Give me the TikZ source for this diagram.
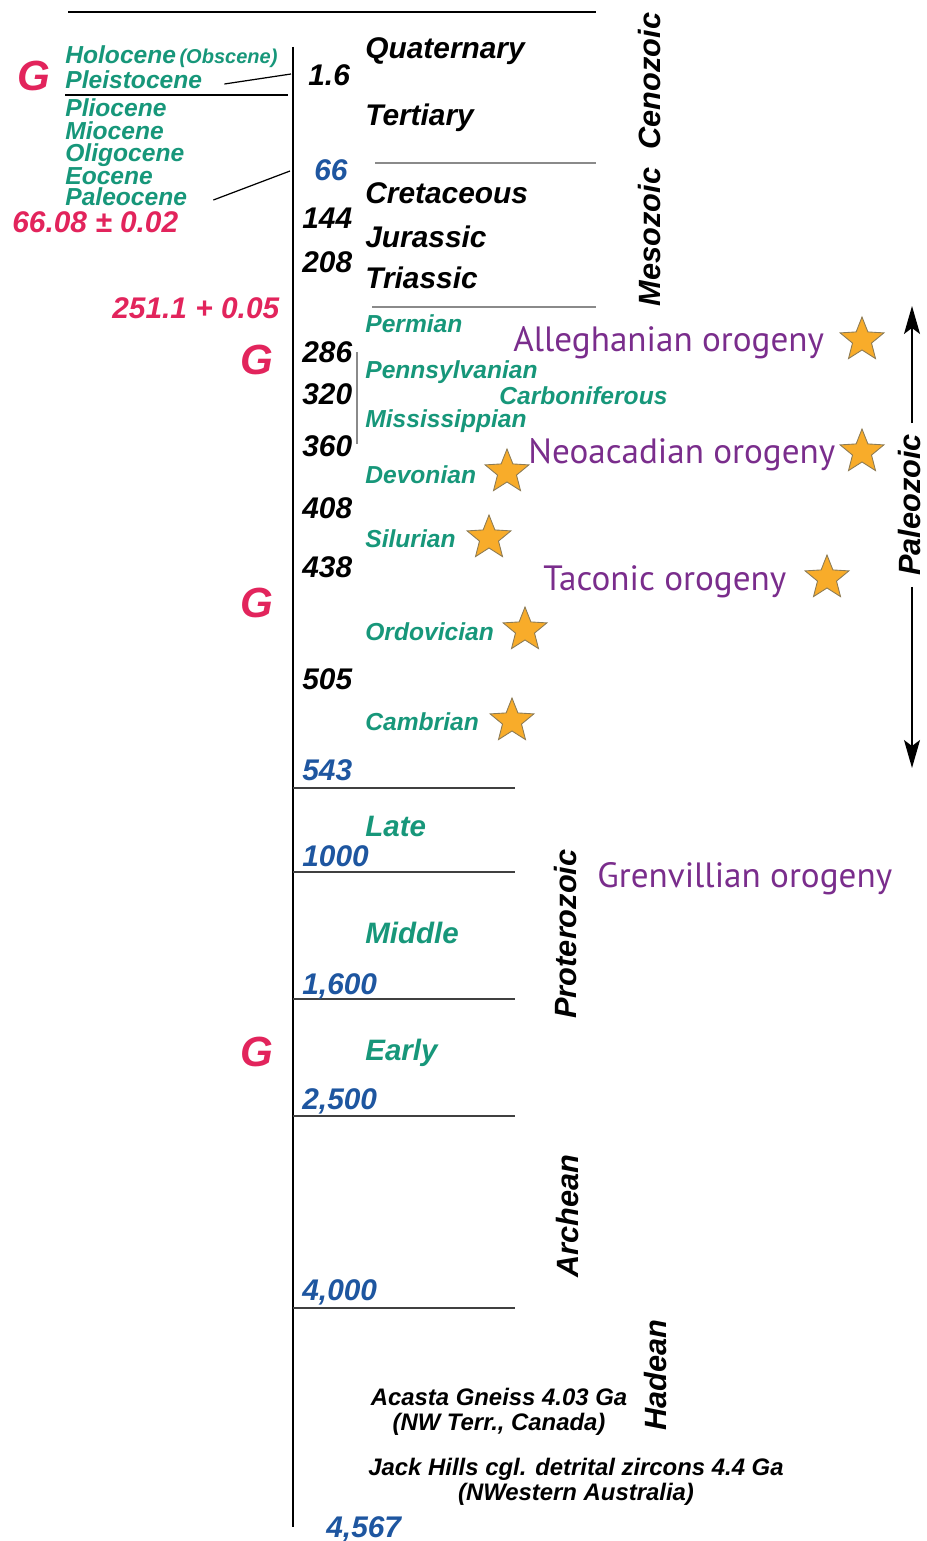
\documentclass[tikz,border=0pt]{standalone}
\usepackage{fontspec}
\setmainfont{Liberation Sans}
\newfontfamily\orofont{PT Sans}
\usetikzlibrary{arrows.meta,positioning,shapes.geometric}
\definecolor{epochgreen}{HTML}{17977A}
\definecolor{gred}{HTML}{E2245C}
\definecolor{ageblue}{HTML}{1E56A0}
\definecolor{orogpurple}{HTML}{7A2D8C}
\definecolor{starfill}{HTML}{F8AC2A}
\definecolor{staredge}{HTML}{8C7B55}
\definecolor{rulegray}{HTML}{8A8A8A}

\begin{document}
\begin{tikzpicture}[
  x=0.02cm, y=-0.02cm,
  txt/.style={anchor=west, inner sep=0pt, text height=0.72em, text depth=0pt, yshift=-0.08cm},
  period/.style={txt, font=\fontsize{17}{17}\selectfont\bfseries\itshape},
  epoch/.style={txt, color=epochgreen, font=\fontsize{14}{14}\selectfont\bfseries\itshape},
  subera/.style={txt, color=epochgreen, font=\fontsize{16.8}{17}\selectfont\bfseries\itshape},
  bage/.style={period, color=ageblue},
  rdate/.style={period, color=gred},
  gmark/.style={inner sep=0pt, color=gred, font=\fontsize{24}{24}\selectfont\bfseries\itshape},
  era/.style={rotate=90, inner sep=0pt, font=\fontsize{17.5}{17.5}\selectfont\bfseries\itshape},
  orog/.style={txt, color=orogpurple, font=\orofont\fontsize{20}{20}\selectfont},
  note/.style={align=center, inner sep=0pt, font=\fontsize{13.6}{14.4}\selectfont\bfseries\itshape},
  starmk/.style={star, star points=5, star point ratio=2.3, minimum size=0.92cm, inner sep=0pt, fill=starfill, draw=staredge, line width=0.5pt},
  rule/.style={draw=rulegray, line width=0.6pt},
  lead/.style={line width=0.7pt},
  arr/.style={-{Stealth[length=0.56cm, width=0.32cm, inset=0.12cm]}, line width=0.9pt},
]
  \useasboundingbox (0,0) rectangle (926,1541);

  % frame of the column
  \draw[line width=0.9pt] (68,12) -- (596,12);
  \draw[line width=0.9pt] (293,47) -- (293,1527);
  \draw[lead] (65,95) -- (288,95);
  \draw[rule] (375,163) -- (596,163);
  \draw[rule] (372,307) -- (596,307);
  \draw[rule] (357,352) -- (357,444);
  \foreach \yy in {788,872,999,1116,1308}
    \draw[line width=0.7pt, draw=black!75] (293,\yy) -- (515,\yy);

  % Cenozoic epochs
  \node[gmark] (g1) at (34,76) {G};
  \node[epoch] (holo) at (65,53) {Holocene\hspace{2pt}{\fontsize{11.4}{12}\selectfont(Obscene)}};
  \node[epoch] (pleist) at (65,78) {Pleistocene};
  \node[epoch] (plio) at (65,106) {Pliocene};
  \node[epoch] (mio) at (65,129) {Miocene};
  \node[epoch] (oligo) at (65,151) {Oligocene};
  \node[epoch] (eoc) at (65,174) {Eocene};
  \node[epoch] (paleoc) at (65,195) {Paleocene};
  \node[rdate] (kpg) at (12,222) {66.08 ± 0.02};
  \node[rdate] (pt) at (112,308) {251.1 + 0.05};
  \coordinate (ax16) at (291,74);
  \coordinate (ax66) at (290,171);
  \draw[lead] ([xshift=0.44cm, yshift=-0.04cm]pleist.east) -- (ax16);
  \draw[lead] ([xshift=0.52cm, yshift=-0.02cm]paleoc.east) -- (ax66);

  % ages
  \node[period] (a16) at (308,75) {1.6};
  \node[bage] (a66) at (314,170) {66};
  \node[period] (a144) at (302,218) {144};
  \node[period] (a208) at (302,262) {208};
  \node[period] (a286) at (302,352) {286};
  \node[period] (a320) at (302,394) {320};
  \node[period] (a360) at (302,446) {360};
  \node[period] (a408) at (302,508) {408};
  \node[period] (a438) at (302,567) {438};
  \node[period] (a505) at (302,679) {505};
  \node[bage] (a543) at (302,770) {543};
  \node[bage] (a1000) at (302,856) {1000};
  \node[bage] (a1600) at (302,984) {1,600};
  \node[bage] (a2500) at (302,1099) {2,500};
  \node[bage] (a4000) at (302,1290) {4,000};
  \node[bage] (a4567) at (326,1527) {4,567};

  % periods
  \node[period] (quat) at (365,48) {Quaternary};
  \node[period] (tert) at (365,115) {Tertiary};
  \node[period] (cret) at (365,193) {Cretaceous};
  \node[period] (jur) at (365,237) {Jurassic};
  \node[period] (tri) at (365,278) {Triassic};
  \node[epoch] (perm) at (365,322) {Permian};
  \node[epoch] (penn) at (365,368) {Pennsylvanian};
  \node[epoch] (carb) at (499,394) {Carboniferous};
  \node[epoch] (miss) at (365,417) {Mississippian};
  \node[epoch] (dev) at (365,473) {Devonian};
  \node[epoch] (sil) at (365,537) {Silurian};
  \node[epoch] (ord) at (365,630) {Ordovician};
  \node[epoch] (camb) at (365,720) {Cambrian};
  \node[subera] (late) at (365,826) {Late};
  \node[subera] (mid) at (365,933) {Middle};
  \node[subera] (early) at (365,1050) {Early};
  \node[gmark] (g2) at (257,360) {G};
  \node[gmark] (g3) at (257,603) {G};
  \node[gmark] (g4) at (257,1052) {G};

  % eras
  \node[era] (ceno) at (650,81) {Cenozoic};
  \node[era] (meso) at (650,237) {Mesozoic};
  \node[era] (prot) at (566,934) {Proterozoic};
  \node[era] (arch) at (568,1216) {Archean};
  \node[era] (hade) at (656,1375) {Hadean};
  \node[era, inner xsep=6pt] (pz) at (909,505) {Paleozoic};
  \coordinate (pztop) at (912,306);
  \coordinate (pzbot) at (912,768);
  \draw[arr] (pz.east -| pztop) -- (pztop);
  \draw[arr] (pz.west -| pzbot) -- (pzbot);

  % orogenies
  \node[orog] (alleg) at (513,341) {Alleghanian orogeny};
  \node[orog] (neoac) at (528,453) {Neoacadian orogeny};
  \node[orog] (tacon) at (543,580) {Taconic orogeny};
  \node[orog] (grenv) at (597,877) {Grenvillian orogeny};
  \node[starmk] (s1) at (862,340) {};
  \node[starmk] (s2) at (862,452) {};
  \node[starmk] (s3) at (507,472) {};
  \node[starmk] (s4) at (489,538) {};
  \node[starmk] (s5) at (827,578) {};
  \node[starmk] (s6) at (525,630) {};
  \node[starmk] (s7) at (512,721) {};

  % oldest rocks
  \node[note] (acasta) at (499,1412) {Acasta Gneiss 4.03 Ga\\(NW Terr., Canada)};
  \node[note] (jack) at (576,1482) {Jack Hills cgl. detrital zircons 4.4 Ga\\(NWestern Australia)};
\end{tikzpicture}
\end{document}
